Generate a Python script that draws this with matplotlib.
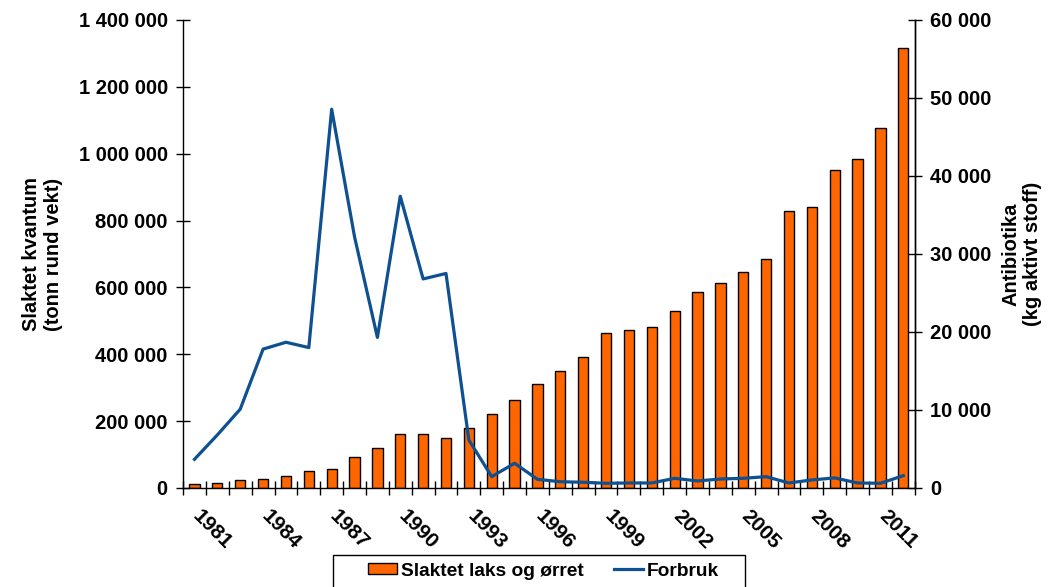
import numpy as np
import matplotlib.pyplot as plt
from matplotlib.ticker import FuncFormatter, MultipleLocator
from matplotlib.patches import Rectangle

plt.rcParams['font.family'] = ['Liberation Sans', 'DejaVu Sans']
plt.rcParams['font.weight'] = 'bold'

# data
years = list(range(1981, 2013))
slaktet = [13000, 16000, 24000, 27000, 36000, 51000, 57000, 92000, 120000, 162000,
           161000, 148000, 179000, 222000, 264000, 311000, 350000, 392000, 463000, 472000,
           481000, 529000, 586000, 613000, 646000, 685000, 829000, 841000, 951000, 984000,
           1077000, 1316000]
forbruk = [3680, 6800, 10100, 17800, 18680, 18000, 48560, 32200, 19300, 37400,
           26800, 27500, 6150, 1450, 3170, 1110, 800, 730, 600, 640,
           640, 1240, 900, 1150, 1240, 1450, 640, 1030, 1290, 640,
           600, 1580]
label_years = years[::3]

BAR_COLOR = '#FF6600'
LINE_COLOR = '#0E5090'

fig = plt.figure(figsize=(10.49, 5.87), dpi=100)
ax = fig.add_axes([0.1745, 0.1687, 0.6975, 0.7973])
ax2 = ax.twinx()

x = np.arange(len(years))
bars = ax.bar(x, slaktet, width=0.45, color=BAR_COLOR, edgecolor='black',
              linewidth=1, label='Slaktet laks og ørret', zorder=2)
line, = ax2.plot(x, forbruk, color=LINE_COLOR, lw=2.3, label='Forbruk', zorder=3)

ax.set_xlim(-0.5, len(years) - 0.5)
ax.set_ylim(0, 1400000)
ax2.set_ylim(0, 60000)

def spaced(v, pos):
    return '{:,.0f}'.format(v).replace(',', ' ')

ax.yaxis.set_major_locator(MultipleLocator(200000))
ax.yaxis.set_major_formatter(FuncFormatter(spaced))
ax2.yaxis.set_major_locator(MultipleLocator(10000))
ax2.yaxis.set_major_formatter(FuncFormatter(spaced))

# category labels every third year (nudged right like the original),
# tick marks on category boundaries
ax.set_xticks([years.index(y) + 0.35 for y in label_years])
ax.set_xticklabels([str(y) for y in label_years], rotation=-45, ha='left',
                   va='top', rotation_mode='anchor', fontsize=15, fontweight='bold')
ax.tick_params(axis='x', which='major', length=0, pad=13)
ax.set_xticks(np.arange(-0.5, len(years)), minor=True)
ax.tick_params(axis='x', which='minor', direction='inout', length=10, width=1)

ax.tick_params(axis='y', direction='inout', length=10, width=1, labelsize=14.5, pad=6)
ax2.tick_params(axis='y', direction='inout', length=10, width=1, labelsize=14.5, pad=6)

for a in (ax, ax2):
    a.spines['top'].set_visible(False)
    for s in ('left', 'right', 'bottom'):
        a.spines[s].set_linewidth(1)
ax2.spines['left'].set_visible(False)
ax2.spines['bottom'].set_visible(False)

ax.set_ylabel('Slaktet kvantum\n(tonn rund vekt)', fontsize=14.5, fontweight='bold', labelpad=11)
ax2.set_ylabel('Antibiotika\n(kg aktivt stoff)', fontsize=14.5, fontweight='bold', labelpad=7)

# legend box, running off the bottom edge as in the reference
fig.patches.append(Rectangle((333 / 1049, -0.02), (745 - 333) / 1049, 0.02 + 32 / 587,
                             transform=fig.transFigure, facecolor='white',
                             edgecolor='black', linewidth=1))
leg = fig.legend([bars, line], ['Slaktet laks og ørret', 'Forbruk'], ncol=2,
                 loc='center left', bbox_to_anchor=(353 / 1049, 16 / 587), fontsize=13.8,
                 frameon=False, handlelength=1.5, handleheight=0.55,
                 handletextpad=0.2, columnspacing=1.6, borderpad=0.3)

fig.savefig('out.png', dpi=100)
